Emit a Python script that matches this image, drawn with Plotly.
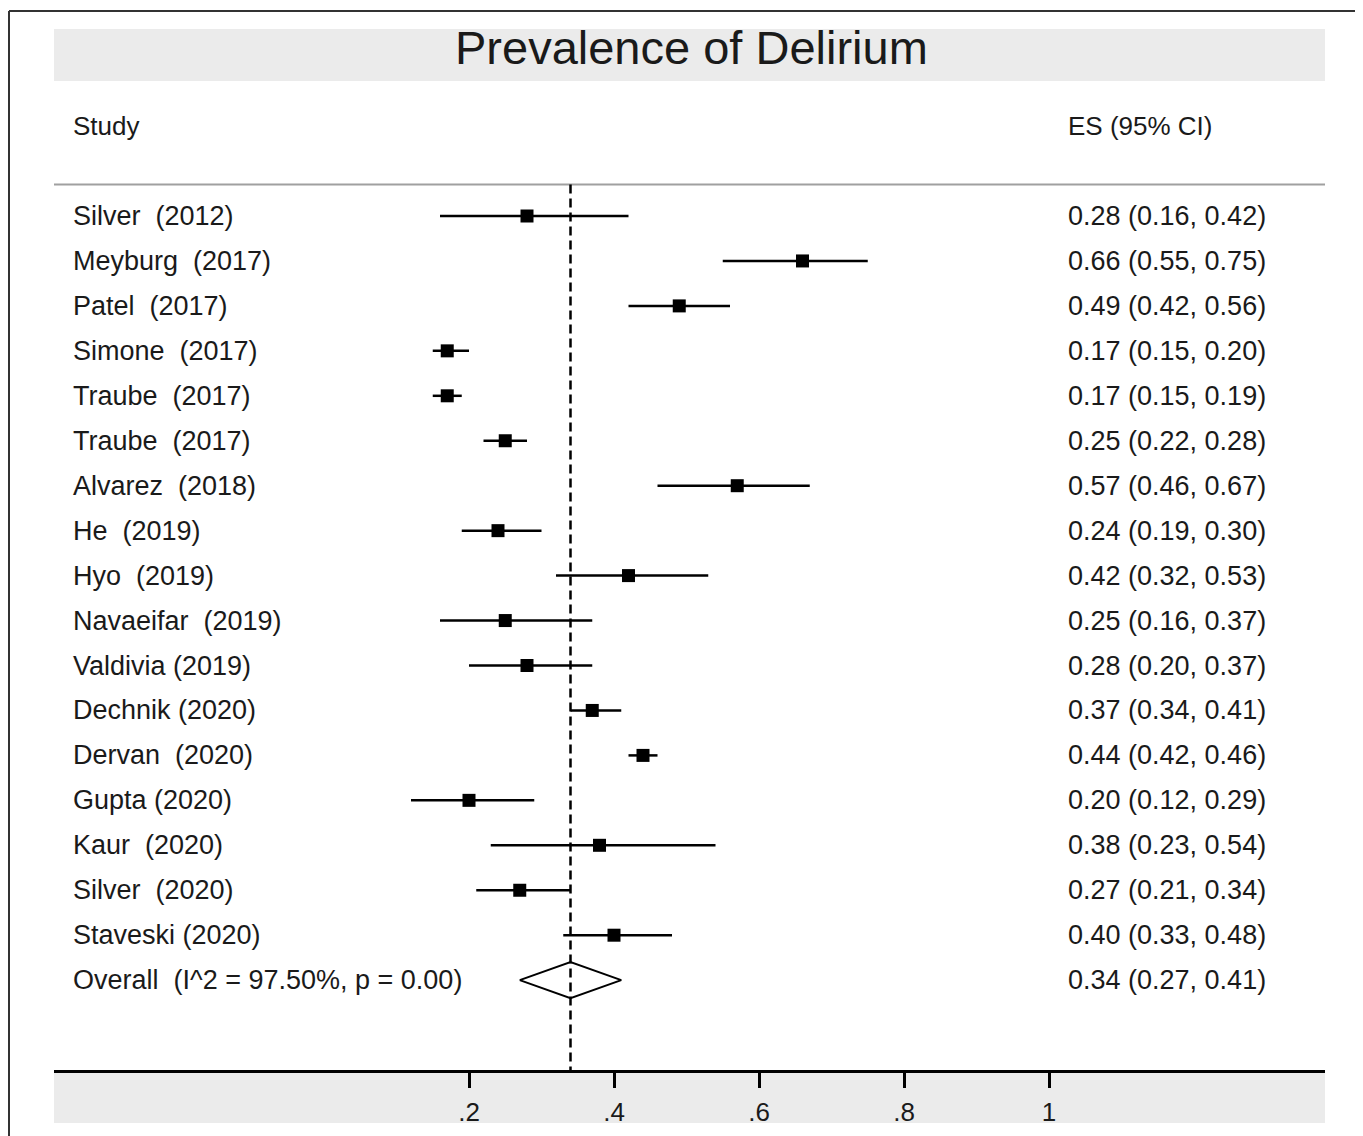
import plotly.graph_objects as go

# ---------------- data ----------------
studies = ["Silver\u00a0 (2012)", "Meyburg\u00a0 (2017)", "Patel\u00a0 (2017)", "Simone\u00a0 (2017)",
           "Traube\u00a0 (2017)", "Traube\u00a0 (2017)", "Alvarez\u00a0 (2018)", "He\u00a0 (2019)",
           "Hyo\u00a0 (2019)", "Navaeifar\u00a0 (2019)", "Valdivia (2019)", "Dechnik (2020)",
           "Dervan\u00a0 (2020)", "Gupta (2020)", "Kaur\u00a0 (2020)", "Silver\u00a0 (2020)",
           "Staveski (2020)"]
es = [0.28, 0.66, 0.49, 0.17, 0.17, 0.25, 0.57, 0.24, 0.42, 0.25, 0.28, 0.37, 0.44, 0.20, 0.38, 0.27, 0.40]
lo = [0.16, 0.55, 0.42, 0.15, 0.15, 0.22, 0.46, 0.19, 0.32, 0.16, 0.20, 0.34, 0.42, 0.12, 0.23, 0.21, 0.33]
hi = [0.42, 0.75, 0.56, 0.20, 0.19, 0.28, 0.67, 0.30, 0.53, 0.37, 0.37, 0.41, 0.46, 0.29, 0.54, 0.34, 0.48]
overall_label = "Overall\u00a0 (I^2 = 97.50%, p = 0.00)"
overall_es, overall_lo, overall_hi = 0.34, 0.27, 0.41
tick_vals = [0.2, 0.4, 0.6, 0.8, 1.0]
tick_text = [".2", ".4", ".6", ".8", "1"]
title_text = "Prevalence of Delirium"
header_study = "Study"
header_es = "ES (95% CI)"

# ---------------- layout geometry (page pixels, page has an 8px body margin) ----------------
OFF = 8
PAGE_W, PAGE_H = 1363, 1136
W, H = PAGE_W - OFF, PAGE_H - OFF
AX_L, AX_R, AX_T, AX_B = 54, 1325, 10, 1070      # plot area in page pixels
L, R, T, B = AX_L - OFF, W - (AX_R - OFF), AX_T - OFF, H - (AX_B - OFF)
PW, PH = AX_R - AX_L, AX_B - AX_T
row0_px, row_step = 216, 44.95
y_top = -(row0_px - AX_T) / row_step
y_bot = y_top + PH / row_step
x_zero_px, x_unit_px = 324, 725
x_min = (AX_L - x_zero_px) / x_unit_px
x_max = (AX_R - x_zero_px) / x_unit_px

def px_x(p):
    return (p - AX_L) / PW

def px_y(p):
    return (AX_B - p) / PH

FONT = "Liberation Sans, Arial, sans-serif"
TXT = "#1a1a1a"
n = len(studies)
rows = list(range(n))
overall_row = n

fig = go.Figure()

# study estimates with CIs
fig.add_trace(go.Scatter(
    x=es, y=rows, mode="markers",
    marker=dict(symbol="square", size=13, color="black"),
    error_x=dict(type="data", symmetric=False,
                 array=[h - e for h, e in zip(hi, es)],
                 arrayminus=[e - l for e, l in zip(es, lo)],
                 width=0, thickness=2.5, color="black"),
    showlegend=False, hoverinfo="skip"))

# overall diamond
fig.add_trace(go.Scatter(
    x=[overall_lo, overall_es, overall_hi, overall_es, overall_lo],
    y=[overall_row, overall_row - 0.4, overall_row, overall_row + 0.4, overall_row],
    mode="lines", line=dict(color="black", width=2),
    showlegend=False, hoverinfo="skip"))

shapes = []
# outer frame (top and left)
shapes.append(dict(type="line", xref="paper", yref="paper", x0=px_x(9), x1=px_x(PAGE_W + 5),
                   y0=px_y(11), y1=px_y(11), line=dict(color="#333333", width=2)))
shapes.append(dict(type="line", xref="paper", yref="paper", x0=px_x(9), x1=px_x(9),
                   y0=px_y(11), y1=px_y(PAGE_H + 5), line=dict(color="#333333", width=2)))
# title band
shapes.append(dict(type="rect", xref="paper", yref="paper", x0=0, x1=1,
                   y0=px_y(81), y1=px_y(29), fillcolor="#ebebeb", line=dict(width=0), layer="below"))
# bottom axis band
shapes.append(dict(type="rect", xref="paper", yref="paper", x0=0, x1=1,
                   y0=px_y(1123), y1=px_y(1072), fillcolor="#ebebeb", line=dict(width=0), layer="below"))
# header separator
shapes.append(dict(type="line", xref="paper", yref="y", x0=0, x1=1, y0=-0.7, y1=-0.7,
                   line=dict(color="#a0a0a0", width=2)))
# dashed overall line
shapes.append(dict(type="line", xref="x", yref="y", x0=overall_es, x1=overall_es,
                   y0=-0.7, y1=y_bot, line=dict(color="black", width=2.5, dash="9px,5px")))

annotations = []
annotations.append(dict(text=title_text, xref="paper", yref="paper", x=px_x(691), y=px_y(48),
                        xanchor="center", yanchor="middle", showarrow=False,
                        font=dict(family=FONT, size=47, color=TXT)))
annotations.append(dict(text=header_study, xref="paper", yref="y", x=px_x(71), y=-2,
                        xanchor="left", yanchor="middle", showarrow=False,
                        font=dict(family=FONT, size=26, color=TXT)))
annotations.append(dict(text=header_es, xref="paper", yref="y", x=px_x(1066), y=-2,
                        xanchor="left", yanchor="middle", showarrow=False,
                        font=dict(family=FONT, size=26, color=TXT)))
for i, s in enumerate(studies):
    annotations.append(dict(text=s, xref="paper", yref="y", x=px_x(71), y=rows[i],
                            xanchor="left", yanchor="middle", showarrow=False,
                            font=dict(family=FONT, size=27, color=TXT)))
    annotations.append(dict(text=f"{es[i]:.2f} ({lo[i]:.2f}, {hi[i]:.2f})", xref="paper", yref="y",
                            x=px_x(1066), y=rows[i], xanchor="left", yanchor="middle", showarrow=False,
                            font=dict(family=FONT, size=27, color=TXT)))
annotations.append(dict(text=overall_label, xref="paper", yref="y", x=px_x(71), y=overall_row,
                        xanchor="left", yanchor="middle", showarrow=False,
                        font=dict(family=FONT, size=27, color=TXT)))
annotations.append(dict(text=f"{overall_es:.2f} ({overall_lo:.2f}, {overall_hi:.2f})", xref="paper",
                        yref="y", x=px_x(1066), y=overall_row, xanchor="left", yanchor="middle",
                        showarrow=False, font=dict(family=FONT, size=27, color=TXT)))

fig.update_layout(
    width=W, height=H,
    margin=dict(l=L, r=R, t=T, b=B, pad=0),
    paper_bgcolor="white", plot_bgcolor="rgba(0,0,0,0)",
    shapes=shapes, annotations=annotations,
    xaxis=dict(range=[x_min, x_max], showgrid=False, zeroline=False,
               showline=True, linecolor="black", linewidth=3,
               ticks="outside", ticklen=15, tickwidth=2.5, tickcolor="black",
               tickvals=tick_vals, ticktext=tick_text, ticklabelstandoff=2,
               tickfont=dict(family=FONT, size=26, color=TXT)),
    yaxis=dict(range=[y_bot, y_top], visible=False, showgrid=False, zeroline=False),
)

fig.write_html("out.html")
